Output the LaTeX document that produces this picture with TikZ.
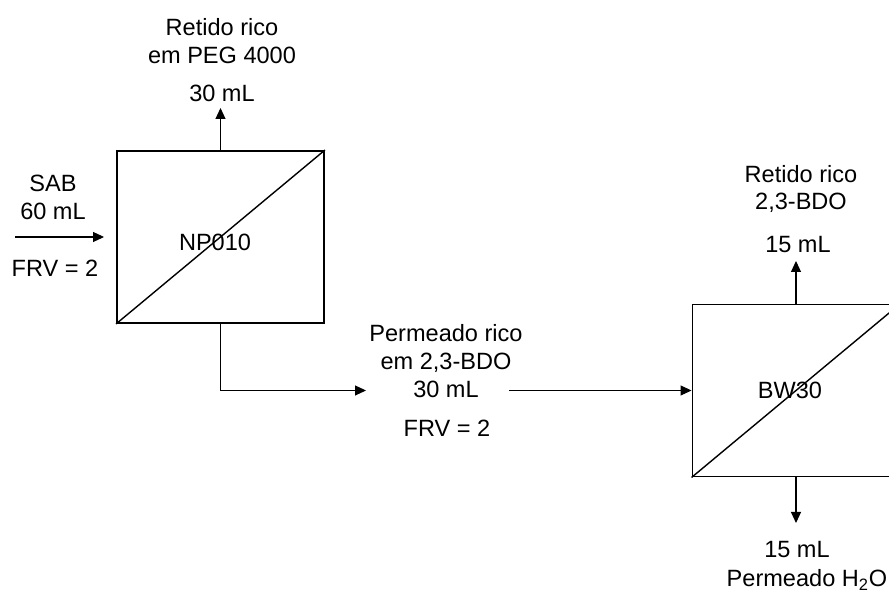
\documentclass[tikz,border=0pt]{standalone}
\usepackage{fontspec}
\setmainfont{Liberation Sans}
\usetikzlibrary{arrows.meta}

\begin{document}
\begin{tikzpicture}[
    membrana/.style={rectangle, draw, line width=1.1pt, minimum width=4.14cm, minimum height=3.44cm, inner sep=0pt},
    seta/.style={-{Triangle[length=0.22cm,width=0.2cm]}, line width=0.6pt},
    rotulo/.style={font=\fontsize{13.4}{15.9}\selectfont, align=center, inner sep=1pt},
]
\useasboundingbox (0,0) rectangle (17.78,11.84);
\clip (0,0) rectangle (17.78,11.84);

% Membranas
\node[membrana] (np) at (4.41,7.10) {};
\node[membrana] (bw) at (15.92,4.03) {};
\draw[line width=0.8pt] (np.south west) -- (np.north east);
\draw[line width=0.8pt] (bw.south west) -- (bw.north east);
\node[rotulo] (npn) at (4.30,6.99) {NP010};
\node[rotulo] (bwn) at (15.80,4.03) {BW30};

% Entrada
\coordinate (sab) at (0.30,7.10);
\node[rotulo] (sabl) at (1.06,7.90) {SAB\\60 mL};
\node[rotulo] (frv1) at (1.10,6.48) {FRV = 2};
\draw[seta, shorten >=0.24cm] (sab) -- (np.west);

% Retido NP010
\node[rotulo] (ret1) at (4.44,11.02) {Retido rico\\em PEG 4000};
\node[rotulo] (vret1) at (4.44,9.98) {30 mL};
\coordinate (t1) at (4.41,9.68);
\draw[seta] (np.north) -- (t1);

% Permeado NP010
\node[rotulo] (perm) at (8.92,4.61) {Permeado rico\\em 2,3-BDO\\30 mL};
\node[rotulo] (frv2) at (8.94,3.28) {FRV = 2};
\coordinate (pin) at (7.32,4.03);
\coordinate (pout) at (10.18,4.03);
\draw[seta] (np.south) |- (pin);
\draw[seta] (pout) -- (bw.west);

% Retido BW30
\node[rotulo] (ret2) at (16.02,8.06) {Retido rico\\2,3-BDO};
\node[rotulo] (vret2) at (15.96,6.94) {15 mL};
\coordinate (t2) at (15.92,6.62);
\draw[seta] (bw.north) -- (t2);

% Permeado BW30
\node[rotulo] (vperm2) at (15.94,0.84) {15 mL};
\node[rotulo] (perm2) at (16.14,0.24) {Permeado H\textsubscript{2}O};
\coordinate (t3) at (15.92,1.38);
\draw[seta] (bw.south) -- (t3);
\end{tikzpicture}
\end{document}
